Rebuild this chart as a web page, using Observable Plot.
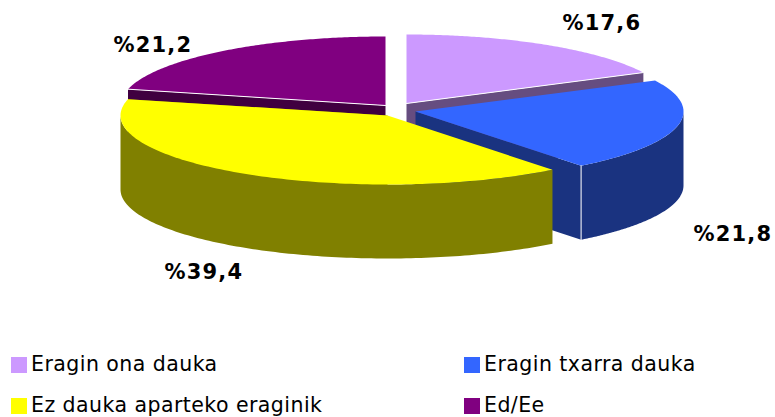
<!DOCTYPE html>
<html><head><meta charset="utf-8">
<script src="https://cdn.jsdelivr.net/npm/d3@7"></script>
<script src="https://cdn.jsdelivr.net/npm/@observablehq/plot@0.6"></script>
<style>
html,body{margin:0;padding:0;background:#fff}
#wrap{position:relative;width:775px;height:417px;overflow:hidden}
#chart svg{display:block}
.pct{letter-spacing:1.2px}
.lg{position:absolute;font:20.5px "DejaVu Sans",sans-serif;letter-spacing:.45px;color:#000;line-height:24px;white-space:nowrap}
.sw{position:absolute;width:16px;height:16px}
</style></head><body>
<div id="wrap"><div id="chart"></div></div>
<script>
// Data
const categories = ["Eragin ona dauka","Eragin txarra dauka","Ez dauka aparteko eraginik","Ed/Ee"];
const shares = [17.6,21.8,39.4,21.2];
const colors = ["#CC99FF","#3366FF","#FFFF00","#800080"];
const sideColors = ["#664D80","#1A3380","#808000","#400040"];

// Layout of the tilted, exploded pie
const radiiX = [265,268,267,265], ry = 69, depth = 74;
const apex = [[406,103],[415,111],[387,115],[385,105]];
const labelAt = [[562,29],[693,240],[164,278],[113,51]];
const legendAt = [[11,357],[464,357],[11,398],[464,398]];

const total = d3.sum(shares);
let acc = 0;
const slices = shares.map((v,i)=>{
  const a0 = acc/total*2*Math.PI; acc += v;
  const a1 = acc/total*2*Math.PI;
  return {i,a0,a1,cx:apex[i][0],cy:apex[i][1],rx:radiiX[i]};
});
const px = (s,a)=>s.cx+s.rx*Math.sin(a);
const py = (s,a,d=0)=>s.cy-ry*Math.cos(a)+d;
const arc = (s,a0,a1,d=0)=>d3.range(0,121).map(k=>{
  const a=a0+(a1-a0)*k/120; return [px(s,a),py(s,a,d)];
});

const polys = [];
let pid = 0;
const add = (pts,fill)=>{const id=pid++; pts.forEach(([x,y])=>polys.push({x,y,id,fill}));};
const seams = [];
let sid = 0;
const seam = (pts)=>{const id=sid++; pts.forEach(([x,y])=>seams.push({x,y,id}));};

function drawSlice(s){
  const {i,a0,a1,cx,cy}=s;
  const ex=px(s,a1), ey=py(s,a1);
  add([[cx,cy],[ex,ey],[ex,ey+depth],[cx,cy+depth]],sideColors[i]);
  const w0=Math.max(a0,Math.PI/2), w1=Math.min(a1,Math.PI*1.5);
  if (w1>w0) add([...arc(s,w0,w1),...arc(s,w0,w1,depth).reverse()],sideColors[i]);
  add([[cx,cy],...arc(s,a0,a1)],colors[i]);
}
// painter's order: back slices first
[0,3,1,2].forEach(i=>{
  const s=slices[i];
  if(i===3){ // purple's visible radial face is its start edge
    const ex=px(s,s.a0), ey=py(s,s.a0);
    add([[s.cx,s.cy],[ex,ey],[ex,ey+depth],[s.cx,s.cy+depth]],sideColors[i]);
    add([[s.cx,s.cy],...arc(s,s.a0,s.a1)],colors[i]);
    seam([[s.cx,s.cy],[ex,ey]]);
  } else {
    drawSlice(s);
    if(i===0) seam([[s.cx,s.cy],[px(s,s.a1),py(s,s.a1)]]);
    if(i===1) seam([[px(s,s.a1),py(s,s.a1)],[px(s,s.a1),py(s,s.a1,depth)]]);
  }
});

const fmt = v=>"%"+v.toFixed(1).replace(".",",");
const labels = shares.map((v,i)=>({t:fmt(v),x:labelAt[i][0],y:labelAt[i][1]}));

const plot = Plot.plot({
  width:775,height:345,margin:0,
  x:{domain:[0,775],range:[0,775],axis:null},
  y:{domain:[0,345],range:[0,345],axis:null},
  color:{type:"identity"},
  style:{background:"#fff"},
  marks:[
    Plot.line(polys,{x:"x",y:"y",z:"id",fill:"fill",stroke:"none"}),
    Plot.line(seams,{x:"x",y:"y",z:"id",stroke:"#fff",strokeWidth:1}),
    Plot.text(labels,{x:"x",y:"y",text:"t",textAnchor:"start",lineAnchor:"bottom",
      fontFamily:"DejaVu Sans",fontWeight:"bold",fontSize:21,fill:"#000",className:"pct"})
  ]
});
document.getElementById("chart").append(plot);

const wrap=document.getElementById("wrap");
categories.forEach((c,i)=>{
  const sw=document.createElement("div");sw.className="sw";
  sw.style.left=legendAt[i][0]+"px";sw.style.top=legendAt[i][1]+"px";sw.style.background=colors[i];
  const t=document.createElement("div");t.className="lg";t.textContent=c;
  t.style.left=(legendAt[i][0]+20)+"px";t.style.top=(legendAt[i][1]-5)+"px";
  wrap.append(sw,t);
});
</script></body></html>
